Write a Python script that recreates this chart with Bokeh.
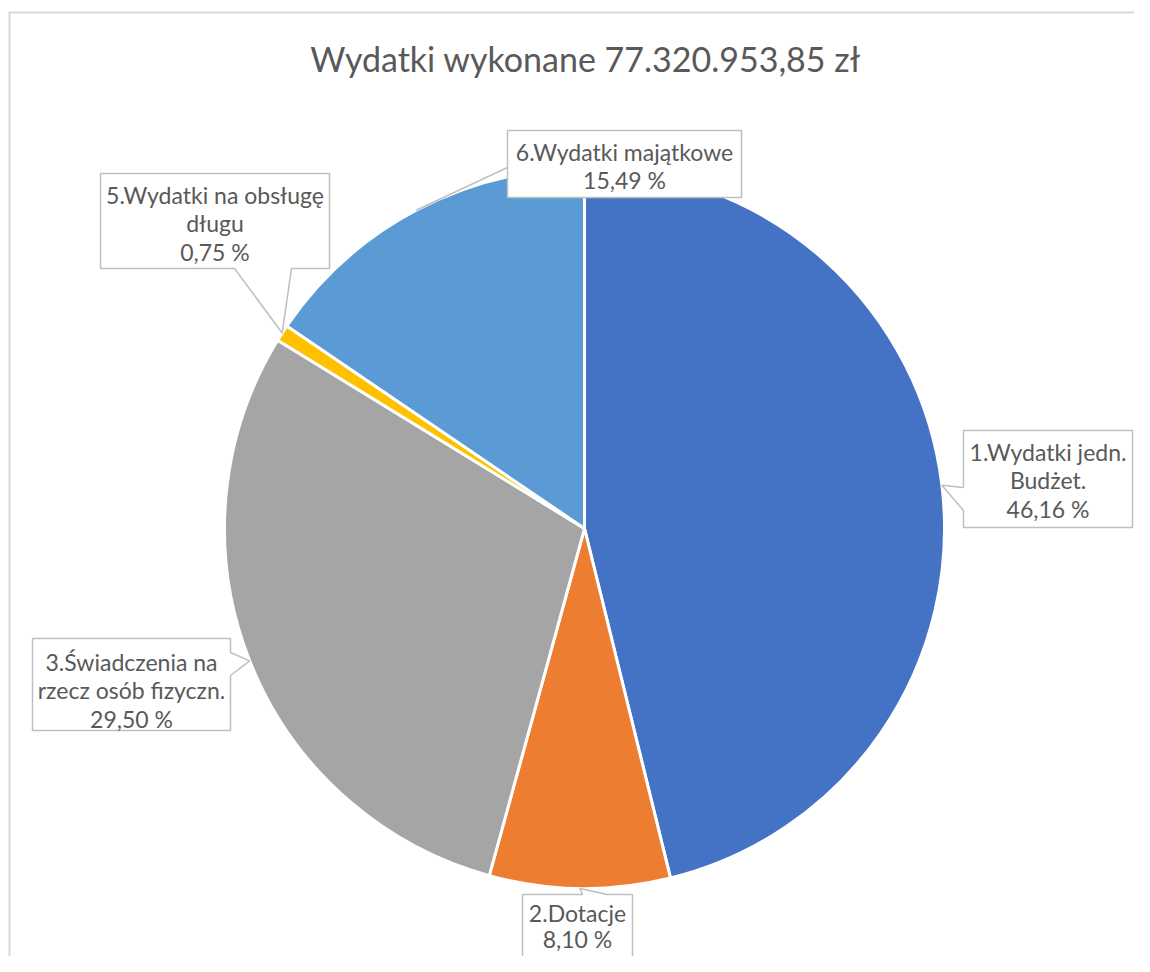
import math
from bokeh.plotting import figure
from bokeh.models import Range1d, ColumnDataSource
from bokeh.core.properties import value
from bokeh.embed import file_html
from bokeh.resources import INLINE

# ---------------- data ----------------
title_text = "Wydatki wykonane 77.320.953,85 zł"
categories = ["1.Wydatki jedn. Budżet.", "2.Dotacje", "3.Świadczenia na rzecz osób fizyczn.",
              "5.Wydatki na obsługę długu", "6.Wydatki majątkowe"]
label_lines = [["1.Wydatki jedn.", "Budżet."], ["2.Dotacje"], ["3.Świadczenia na", "rzecz osób fizyczn."],
               ["5.Wydatki na obsługę", "długu"], ["6.Wydatki majątkowe"]]
shares = [46.16, 8.10, 29.50, 0.75, 15.49]
colors = ["#4472C4", "#ED7D31", "#A5A5A5", "#FFC000", "#5B9BD5"]

# ---------------- layout (picture pixel coords) ----------------
W, H = 1134, 956


def Y(py):
    return H - py


CX, CY, R = 584, 528, 360
FONT = "Lato"
LABEL_SIZE = "23px"
TITLE_SIZE = "34px"
TXT = "#595959"
BOX_LINE = "#BFBFBF"

# label boxes: (left, right, top, bottom), pointer side, pointer base pair,
# text centre y of first line, line spacing
boxes = [
    dict(rect=(963, 1132, 430, 527), side="left", base=(487, 510), y0=451, lh=28.5),
    dict(rect=(522, 632, 894, 1000), side="top", base=(582, 607), y0=912, lh=26.5),
    dict(rect=(32, 230, 638, 730), side="right", base=(652, 675), y0=661, lh=28.5),
    dict(rect=(100, 329, 173, 268), side="bottom", base=(234, 291), y0=194, lh=28.5),
    dict(rect=(507, 741, 130, 197), side="leader", base=(167, None), y0=151, lh=28.5),
]

p = figure(width=W, height=H, output_backend="svg", toolbar_location=None,
           x_range=Range1d(0, W), y_range=Range1d(0, H),
           min_border=0, outline_line_color=None)
p.axis.visible = False
p.grid.visible = False
p.background_fill_color = "white"
p.border_fill_color = "white"

# chart area border (left & top visible)
p.segment(x0=[9, 8], y0=[Y(12), Y(12)], x1=[9, W + 20], y1=[Y(H + 20), Y(12)],
          line_color="#D9D9D9", line_width=2)

# pie wedges
total = sum(shares)
starts, ends, mids = [], [], []
cum = 0.0
for s in shares:
    a0 = math.pi / 2 - 2 * math.pi * cum / total
    cum += s
    a1 = math.pi / 2 - 2 * math.pi * cum / total
    starts.append(a0)
    ends.append(a1)
    mids.append((a0 + a1) / 2)

src = ColumnDataSource(dict(x=[CX] * len(shares), y=[Y(CY)] * len(shares),
                            start=starts, end=ends, color=colors, cat=categories))
p.wedge(x="x", y="y", radius=R, start_angle="start", end_angle="end", direction="clock",
        fill_color="color", line_color="white", line_width=3, source=src)

# callouts
xs, ys = [], []
lead_x, lead_y = [], []
for b, m in zip(boxes, mids):
    l, r, t, bt = b["rect"]
    tipx = CX + R * math.cos(m)
    tipy = CY - R * math.sin(m)
    side = b["side"]
    b1, b2 = b["base"]
    if side == "left":
        pts = [(l, t), (r, t), (r, bt), (l, bt), (l, b2), (tipx, tipy), (l, b1)]
    elif side == "right":
        pts = [(l, t), (r, t), (r, b1), (tipx, tipy), (r, b2), (r, bt), (l, bt)]
    elif side == "top":
        pts = [(l, t), (b1, t), (tipx, tipy), (b2, t), (r, t), (r, bt), (l, bt)]
    elif side == "bottom":
        pts = [(l, t), (r, t), (r, bt), (b2, bt), (tipx, tipy), (b1, bt), (l, bt)]
    else:
        pts = [(l, t), (r, t), (r, bt), (l, bt)]
        lead_x.append([l, tipx])
        lead_y.append([Y(b1), Y(tipy)])
    xs.append([q[0] for q in pts])
    ys.append([Y(q[1]) for q in pts])

p.multi_line(xs=lead_x, ys=lead_y, line_color=BOX_LINE, line_width=1.5)
p.patches(xs=xs, ys=ys, fill_color="white", line_color=BOX_LINE, line_width=1.5)

tx, ty, tt = [], [], []
for b, lines, s in zip(boxes, label_lines, shares):
    l, r, t, bt = b["rect"]
    allines = lines + [f"{s:.2f} %".replace(".", ",")]
    for i, ln in enumerate(allines):
        tx.append((l + r) / 2)
        ty.append(Y(b["y0"] + i * b["lh"]))
        tt.append(ln)

p.text(x=tx, y=ty, text=tt, text_align="center", text_baseline="middle",
       text_font=value(FONT), text_font_size=value(LABEL_SIZE), text_color=TXT)

p.text(x=[585], y=[Y(58)], text=[title_text], text_align="center", text_baseline="middle",
       text_font=value(FONT), text_font_size=value(TITLE_SIZE), text_color=TXT)

open("out.html", "w").write(file_html(p, INLINE))
